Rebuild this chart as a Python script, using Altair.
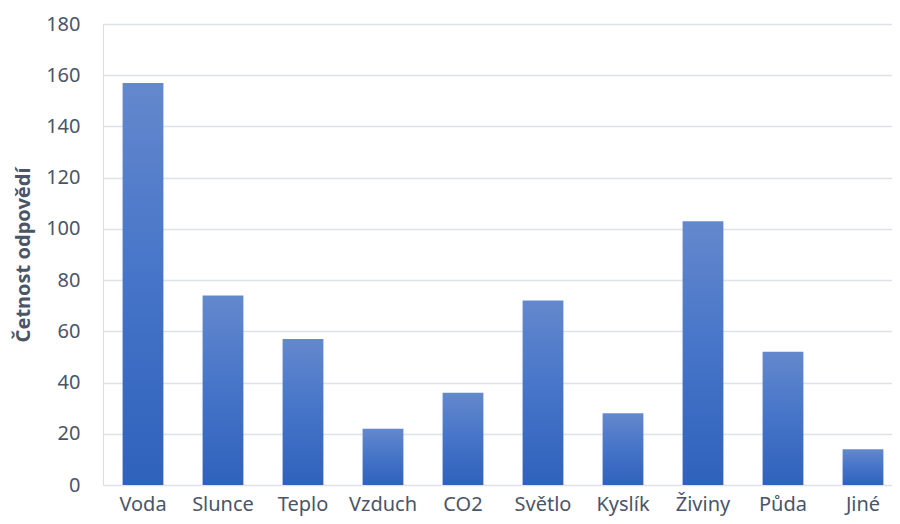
import altair as alt
import pandas as pd

categories = ["Voda", "Slunce", "Teplo", "Vzduch", "CO2", "Světlo", "Kyslík", "Živiny", "Půda", "Jiné"]
values = [157, 74, 57, 22, 36, 72, 28, 103, 52, 14]
y_ticks = [0, 20, 40, 60, 80, 100, 120, 140, 160, 180]

df = pd.DataFrame({"kategorie": categories, "cetnost": values})

FONT = "Noto Sans"
TEXT = "#4a5568"

grad = alt.Gradient(
    gradient="linear",
    x1=0, y1=0, x2=0, y2=1,
    stops=[
        alt.GradientStop(color="#6488cd", offset=0),
        alt.GradientStop(color="#4574c8", offset=0.5),
        alt.GradientStop(color="#2f62bc", offset=1),
    ],
)

chart = alt.Chart(df).mark_bar(color=grad).encode(
    x=alt.X(
        "kategorie:N",
        sort=categories,
        title=None,
        scale=alt.Scale(paddingInner=0.49, paddingOuter=0.245, range=[0, 800]),
        axis=alt.Axis(labelAngle=0, domain=False, ticks=False, labelPadding=9,
                      labelFont=FONT, labelFontSize=20, labelColor=TEXT, grid=False),
    ),
    y=alt.Y(
        "cetnost:Q",
        title="Četnost odpovědí",
        scale=alt.Scale(domain=[0, 180], nice=False),
        axis=alt.Axis(values=y_ticks, domain=False, ticks=False, labelPadding=23,
                      labelFont=FONT, labelFontSize=20, labelColor=TEXT,
                      titleFont=FONT, titleFontSize=20, titleFontWeight="bold",
                      titleColor=TEXT, titlePadding=12,
                      grid=True, gridColor="#dde1e8", gridWidth=1.6),
    ),
).properties(
    width=789,
    height=461,
    autosize=alt.AutoSizeParams(type="none"),
    padding={"left": 95, "top": 16, "right": 0, "bottom": 31},
).configure_view(strokeWidth=0).configure(background="white")

chart.save("out.html", embed_options={"renderer": "svg", "actions": False})
